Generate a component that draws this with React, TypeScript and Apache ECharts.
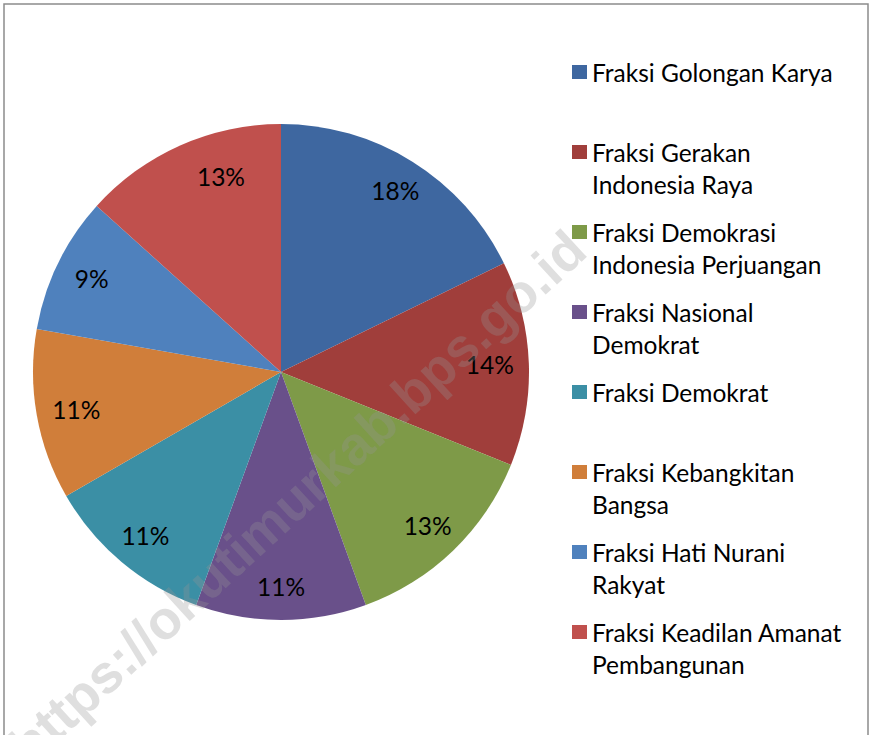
import React, { useEffect, useRef } from "react";
import * as echarts from "echarts";

const categories = [
  "Fraksi Golongan Karya",
  "Fraksi Gerakan Indonesia Raya",
  "Fraksi Demokrasi Indonesia Perjuangan",
  "Fraksi Nasional Demokrat",
  "Fraksi Demokrat",
  "Fraksi Kebangkitan Bangsa",
  "Fraksi Hati Nurani Rakyat",
  "Fraksi Keadilan Amanat Pembangunan",
];
// legend text as wrapped in the original (first line, second line)
const legendLine1 = [
  "Fraksi Golongan Karya",
  "Fraksi Gerakan",
  "Fraksi Demokrasi",
  "Fraksi Nasional",
  "Fraksi Demokrat",
  "Fraksi Kebangkitan",
  "Fraksi Hati Nurani",
  "Fraksi Keadilan Amanat",
];
const legendLine2 = [" ", "Indonesia Raya", "Indonesia Perjuangan", "Demokrat", " ", "Bangsa", "Rakyat", "Pembangunan"];
// seats per faction (slice sizes), and the percentage labels as printed
const seats = [8, 6, 6, 5, 5, 5, 4, 6];
const percentLabels = ["18%", "14%", "13%", "11%", "11%", "11%", "9%", "13%"];
const colors = ["#3E67A0", "#A03E3B", "#7E9A48", "#69508A", "#3B8FA5", "#D07E3A", "#4F81BD", "#C0504D"];
// small per-label nudges (padding) to mimic the original label placement
const labelPadding = [
  [0, 0, 8, 2],
  [0, 10, 4, 0],
  [0, 4, 12, 0],
  [26, 0, 0, 0],
  [0, 0, 8, 4],
  [0, 0, 8, 12],
  [0, 0, 0, 6],
  [0, 0, 18, 54],
];
const watermark = "https://okutimurkab.bps.go.id";

const FONT = "Lato";

export default function App() {
  const ref = useRef<HTMLDivElement>(null);
  useEffect(() => {
    document.body.style.margin = "0";
    const chart = echarts.init(ref.current!, null, { renderer: "svg" });
    const data = categories.map((name, i) => ({ name, value: seats[i], itemStyle: { color: colors[i] } }));
    chart.setOption({
      animation: false,
      backgroundColor: "#ffffff",
      legend: {
        orient: "vertical",
        left: 567,
        top: 19,
        icon: "rect",
        itemWidth: 15,
        itemHeight: 14,
        itemGap: -16,
        data: categories,
        formatter: (name: string) => {
          const i = categories.indexOf(name);
          return " \n" + legendLine1[i] + "\n" + legendLine2[i];
        },
        textStyle: {
          fontFamily: FONT,
          fontSize: 24.5,
          color: "#000000",
          lineHeight: 32,
        },
        selectedMode: false,
      },
      series: [
        {
          type: "pie",
          center: [281, 372],
          radius: [0, 248],
          startAngle: 90,
          clockwise: true,
          label: { show: false },
          labelLine: { show: false },
          itemStyle: { borderWidth: 0 },
          silent: true,
          data,
        },
        {
          type: "pie",
          center: [281, 372],
          radius: [174, 248],
          startAngle: 90,
          clockwise: true,
          silent: true,
          itemStyle: { color: "transparent", borderWidth: 0 },
          label: {
            show: true,
            position: "inside",
            fontFamily: FONT,
            fontSize: 24.5,
            color: "#000000",
          },
          labelLine: { show: false },
          data: categories.map((name, i) => ({
            name: name + " ",
            value: seats[i],
            label: { formatter: percentLabels[i], padding: labelPadding[i] },
          })),
        },
      ],
      graphic: [
        {
          type: "rect",
          shape: { x: 4, y: 4, width: 864, height: 760 },
          style: { fill: "none", stroke: "#8c8c8c", lineWidth: 1.5 },
          silent: true,
        },
        {
          type: "text",
          x: 297,
          y: 497,
          rotation: (42.5 * Math.PI) / 180,
          z: 100,
          silent: true,
          style: {
            text: watermark,
            fontFamily: "Liberation Sans",
            fontWeight: "bold",
            fontSize: 54,
            fill: "rgba(150,150,150,0.3)",
            align: "center",
            verticalAlign: "middle",
          },
        },
      ],
    });
    return () => chart.dispose();
  }, []);
  return <div ref={ref} style={{ position: "absolute", left: 0, top: 0, width: 871, height: 735 }} />;
}
